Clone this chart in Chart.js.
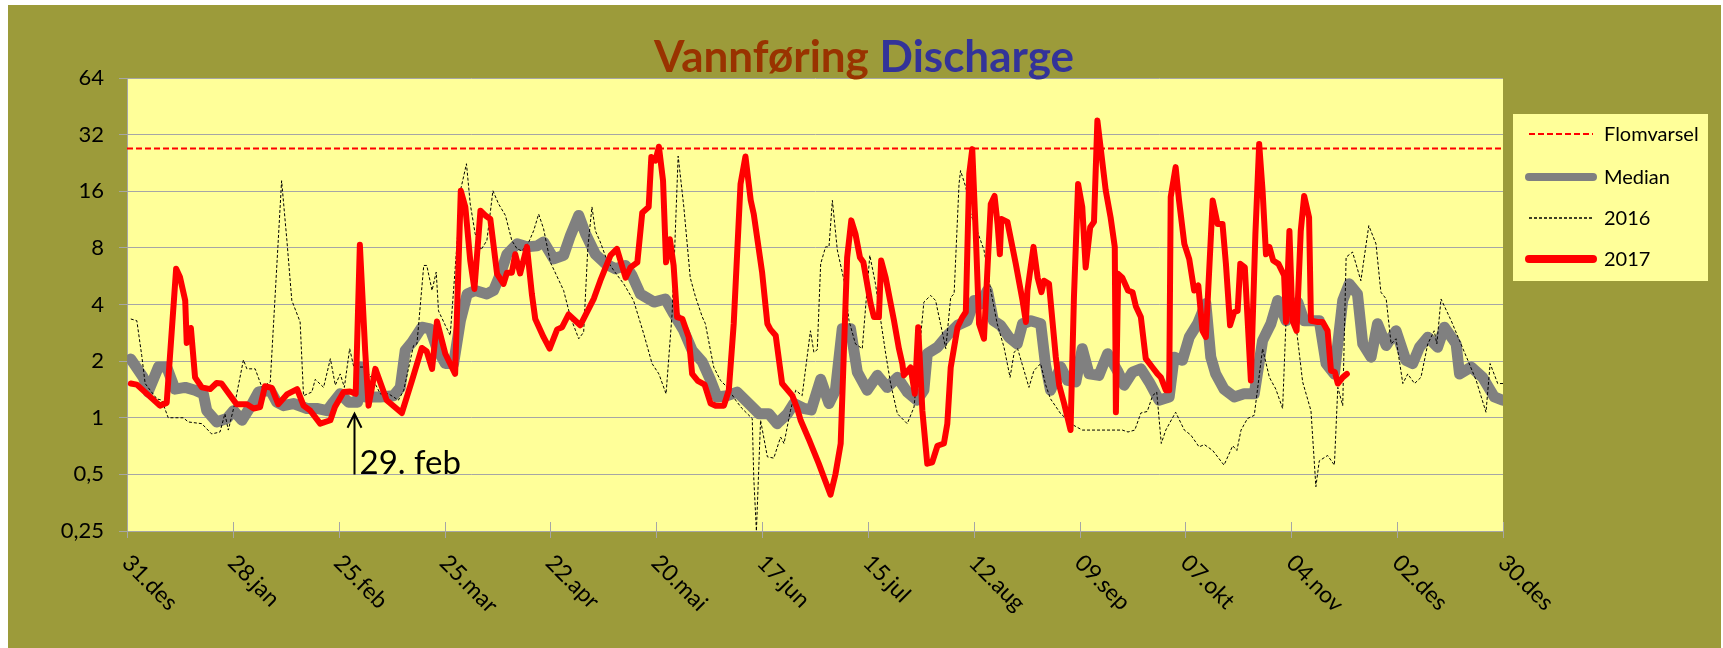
<!DOCTYPE html>
<html>

<head>
    <meta charset="UTF-8">
    <title>Vannføring Discharge</title>
    <style>
        body { margin: 0; background: #fff; }
    </style>
</head>

<body>
    <canvas id="chart" width="1723" height="648"></canvas>
    <script src="https://cdn.jsdelivr.net/npm/chart.js"></script>
    <script>
        // dager regnet fra 31.des
        const tickDays = [0, 28, 56, 84, 112, 140, 168, 196, 224, 252, 280, 308, 336, 364];
        const tickLabels = ["31.des", "28.jan", "25.feb", "25.mar", "22.apr", "20.mai", "17.jun",
            "15.jul", "12.aug", "09.sep", "07.okt", "04.nov", "02.des", "30.des"];
        const yTicks = [0.25, 0.5, 1, 2, 4, 8, 16, 32, 64];

        const flomDays = [0, 364];
        const flomValues = [27, 27];

        const medianDays = [1, 4.3, 5.6, 8.3, 10.5, 12.7, 15.4, 18, 20.2, 21.1, 23.7, 26.4, 28.2, 30.4, 32.6, 34.8,
            37.9, 39.6, 41.4, 44, 47.6, 50.2, 52.9, 54.6, 56.4, 58.6, 61, 61.7, 63, 67, 70.5, 72.3, 73.6, 75.4, 78,
            80.2, 82, 84.2, 86.4, 88.2, 90, 92.1, 95.2, 97, 98.8, 100.5, 103.2, 105.8, 108.5, 110.2, 112.9, 115.5,
            117.3, 119.5, 121.3, 123.9, 126.6, 129.2, 131.9, 133.6, 135.8, 139.4, 142.4, 144.6, 147.3, 149.5, 152.2,
            154.4, 156.1, 158.8, 161.4, 164.1, 167.2, 169.8, 172, 174.7, 176.4, 179.1, 181, 183.5, 185.7, 187.4,
            189.2, 191.4, 193.2, 195.8, 198.5, 201.1, 203.8, 206.4, 209, 210.8, 211.7, 214.4, 217, 219.7, 222.3,
            224.1, 225.8, 227.6, 229.2, 231.1, 233.3, 235.5, 236.9, 239.1, 241.7, 243, 244.3, 247, 248.8, 251,
            252.7, 254.5, 257.1, 259.4, 262, 263.8, 266, 268.2, 270.4, 273, 275.7, 277, 279.2, 281, 283.2, 285.4,
            286.7, 288, 290.2, 292.9, 295.5, 298.2, 300.4, 302.6, 304.4, 306.6, 309.7, 311.4, 315.4, 317.2, 319.4,
            321.6, 323.3, 325.5, 326.9, 329.1, 330.8, 333.1, 335.7, 338.3, 340.1, 341.9, 344.1, 346.7, 348.5,
            351.6, 352.5, 355.6, 358.6, 361.7, 363.9];
        const medianValues = [2.05, 1.64, 1.37, 1.86, 1.86, 1.42, 1.45, 1.4, 1.34, 1.09, 0.95, 0.99, 1.09, 0.97, 1.14, 1.37,
            1.4, 1.21, 1.16, 1.19, 1.12, 1.12, 1.09, 1.21, 1.34, 1.21, 1.21, 1.86, 1.29, 1.29, 1.31, 1.45, 2.28, 2.52, 3.03,
            2.97, 2.33, 1.94, 1.94, 3.28, 4.55, 4.75, 4.55, 4.75, 5.82, 7.4, 8.4, 8.1, 8.2, 8.6, 7.0, 7.3,
            9.3, 11.9, 9.5, 7.4, 6.58, 6.2, 6.45, 5.7, 4.55, 4.12, 4.28, 3.57, 2.9, 2.28, 1.98,
            1.58, 1.29, 1.31, 1.37, 1.21, 1.05, 1.05, 0.93, 1.05, 1.19, 1.12, 1.1, 1.6, 1.19, 1.4,
            2.97, 2.97, 1.75, 1.4, 1.68, 1.45, 1.64, 1.37, 1.24, 1.4, 2.19, 2.37, 2.74, 3.1, 3.28,
            4.2, 4.03, 4.75, 3.28, 3.1, 2.68, 2.47, 3.16, 3.28, 3.16, 1.9, 1.4, 1.86, 1.58, 1.55,
            2.33, 1.71, 1.68, 2.19, 1.78, 1.49, 1.75, 1.82, 1.55, 1.24, 1.29, 2.1, 2.02, 2.68, 3.16, 4.05,
            2.1, 1.71, 1.42, 1.29, 1.34, 1.34, 2.57, 3.16, 4.2, 3.28, 4.12, 3.28, 3.28, 1.94, 1.71,
            4.2, 5.15, 4.55, 2.47, 2.1, 3.16, 2.42, 2.9, 2.02, 1.94, 2.37, 2.68, 2.37, 3.03,
            2.47, 1.71, 1.86, 1.64, 1.29, 1.24];

        const days2016 = [1, 2.6, 3.9, 4.8, 6.5, 7.9, 9.2, 10.9, 14.9, 16.2, 19.8, 22.4, 24.6, 25.9, 26.8, 28.6, 30.8,
            31.7, 33.9, 35.7, 37.9, 40.9, 42.3, 43.6, 45.8, 46.7, 48.9, 49.8, 52, 53.8, 55.1, 56.4, 57.5, 58.9, 60,
            62.6, 65.2, 67, 69.2, 71.8, 73.2, 75.8, 76.7, 78.5, 79.3, 80.7, 81.8, 82.4, 84.2, 85.5, 87.3, 88.2, 89.8,
            90.8, 92.1, 93.6, 95.2, 96.8, 98.3, 100.1, 101.8, 103.2, 104.5, 106.3, 107.6, 108.9, 110.2, 112, 114.2,
            115.5, 117.3, 119.5, 120.8, 121.9, 123, 123.9, 125.2, 127, 128.8, 131.4, 134, 136.7, 138.9, 140.7, 142.6,
            144.2, 144.8, 145.8, 147.3, 149, 150.4, 152.2, 153, 155.2, 157, 158.8, 161, 162.7, 165.4, 165.8, 166.5,
            167.6, 169.4, 171.1, 172.9, 173.8, 175.5, 176.9, 178.6, 180.8, 181.7, 182.6, 183.5, 184.8, 185.7, 186.6,
            187.9, 189.7, 191, 192.7, 194.5, 196.5, 198, 199.4, 200.7, 202, 203.8, 206.4, 208.2, 210.8, 212.6, 213.9,
            215.2, 216.6, 217.9, 218.8, 220.1, 220.5, 221.9, 223.2, 224.9, 226.7, 228.5, 230.2, 232, 233.6, 234.7,
            235.6, 238.6, 239.9, 241.7, 243, 244.3, 247, 250.5, 252.7, 263.3, 264.8, 266.6, 268.2, 269.9, 271.3,
            272.4, 273.6, 274.8, 277.4, 279.7, 281.4, 283.6, 285, 287.2, 290.2, 292.5, 293.6, 294.7, 296.4, 298.2,
            300.4, 302.2, 303.9, 305.7, 306.6, 309.2, 311, 313.2, 314.5, 315.4, 317.6, 319.4, 320.3, 321.6, 322.5,
            324.2, 326.4, 328.5, 330.4, 331.7, 333.1, 334.4, 335.7, 337.5, 338.8, 340.6, 342.3, 344.1, 345.8, 346.5,
            347.6, 350.3, 352.5, 354.7, 356.9, 359.5, 360.6, 362.6, 364.4];
        const flow2016 = [3.35, 3.28, 2.14, 1.52, 1.37, 1.26, 1.24, 1.0, 1.0, 0.95, 0.93, 0.82, 0.84, 1.05, 0.86, 1.21, 2.03,
            1.82, 1.82, 1.45, 1.55, 18.2, 8.75, 4.2, 3.23, 1.31, 1.37, 1.6, 1.45, 2.06, 1.49, 1.71, 1.45, 2.33, 1.86,
            1.86, 1.58, 1.34, 1.34, 1.24, 1.4, 2.42, 2.47, 6.45, 6.45, 4.75, 5.95, 3.7, 3.1, 2.74, 8.4, 16.1, 22.4,
            13.7, 9.5, 7.8, 8.75, 16.1, 13.7, 11.9, 8.75, 7.9, 7.7, 8.6, 9.9, 12.1, 10.1, 6.7, 5.4,
            4.75, 3.43, 2.63, 2.85, 8, 13.2, 9.85, 8.6, 6.85, 6.05, 5.15, 4.2, 2.79, 1.94, 1.71, 1.34,
            3.57, 7.14, 24.6, 13.2, 5.55, 4.38, 3.43, 3.16, 1.86, 1.58, 1.45, 1.24, 1.12, 0.99, 0.48, 0.25,
            0.97, 0.62, 0.61, 0.79, 0.73, 1.09, 1.4, 1.31, 2.9, 2.23, 2.3, 6.58, 8.1, 8.1, 14.3,
            7.8, 5.35, 3.28, 2.47, 2.33, 7.3, 5.15, 3.28, 2.19, 1.52, 1.05, 0.93, 1.14, 4.12, 4.47, 4.2,
            3.16, 2.33, 4.38, 4.55, 17.5, 20.6, 16.8, 12.1, 9.85, 7.8, 4.75, 3.16, 2.37, 1.64, 2.23,
            2.33, 1.45, 1.78, 1.94, 1.5, 1.26, 1.05, 0.91, 0.86, 0.86, 0.84, 0.86, 1.06, 1.08, 1.31,
            1.37, 0.73, 0.86, 1.07, 0.86, 0.81, 0.7, 0.72, 0.67, 0.56, 0.71, 0.67, 0.86, 0.99, 1.03,
            2.33, 1.64, 1.42, 1.12, 3.28, 3.16, 1.55, 1.09, 0.43, 0.59, 0.63, 0.56, 1.45, 1.16, 7.14,
            7.6, 5.35, 10.5, 8.4, 4.65, 4.28, 2.47, 2.63, 1.52, 1.71, 1.52, 1.64, 2.47, 2.9, 2.47,
            4.28, 3.28, 2.57, 2.02, 1.58, 1.07, 1.94, 1.52, 1.52];

        const days2017 = [1, 2.6, 8.7, 10.5, 11.2, 13, 14, 15.4, 15.8, 16.9, 18, 19.8, 22, 23.7, 25, 29, 31.7, 33.5,
            35.2, 36.5, 38.3, 40, 42.3, 45, 46.7, 48.5, 51.1, 53.8, 55, 57.3, 59, 60.5, 61.6, 63, 63.9, 65.7, 68.7,
            72.7, 75.4, 78, 79.3, 80.7, 82, 84.2, 86.8, 88.3, 89.5, 90.8, 91.9, 93.5, 94.8, 96.1, 97.9, 99.6, 100.5,
            101.8, 102.7, 104, 105.8, 107.1, 108, 110.2, 111.8, 113.8, 115.1, 116.8, 119.9, 123.5, 125.2, 127.9,
            129.6, 131.9, 133.2, 135, 136.3, 138, 138.7, 139.8, 140.7, 141.8, 142.6, 143.6, 144.6, 145.5, 146.9,
            148.6, 149.5, 151, 152.8, 154.4, 155.7, 157.9, 159.2, 160.5, 162.3, 163.6, 165, 165.8, 168, 169.4,
            170.2, 171.6, 173.3, 176, 177.3, 178.2, 180.6, 183, 184.4, 186.1, 187.4, 188.8, 190.5, 191.6, 192.7,
            193.9, 194.8, 196.7, 197.6, 198.9, 199.5, 200.7, 202.9, 204.2, 205.1, 205.5, 207.3, 208.4, 209.3,
            210.4, 211.7, 213, 214.4, 216.1, 217, 217.9, 219.7, 221, 221.9, 222.8, 223.6, 224.5, 225.4, 226.7,
            227.6, 228.5, 229.5, 230.3, 230.9, 231.3, 232.9, 235.1, 236.9, 237.8, 238.2, 239.8, 240.9, 241.9,
            242.6, 243.9, 245.7, 246.6, 247.9, 249.6, 250.5, 251.6, 252.7, 253.6, 254.8, 255.8, 256.7, 258.9,
            260.2, 261.3, 261.6, 262.2, 263.3, 264.8, 266, 266.9, 268.2, 269.5, 271.3, 272.6, 273.5, 274.8, 275.7,
            276.1, 277.4, 278.3, 279.7, 281, 282.3, 283.4, 284.5, 285.4, 287.2, 288.5, 289.8, 290.7, 291.8, 292.9,
            293.8, 294.5, 295.7, 297.3, 298.5, 299.5, 300.4, 301.3, 302.2, 303.2, 304.6, 306.1, 306.6, 307.5,
            308.3, 309.4, 310.5, 311.4, 312.7, 313.2, 315, 316.3, 317.6, 318.5, 319.5, 320.3, 321.6, 322.7];
        const flow2017 = [1.52, 1.5, 1.16, 1.2, 1.9, 6.2, 5.6, 4.2, 2.5, 3.0, 1.64, 1.45, 1.42, 1.53, 1.52, 1.18, 1.18, 1.12,
            1.14, 1.47, 1.44, 1.18, 1.33, 1.42, 1.16, 1.09, 0.93, 0.97, 1.14, 1.37, 1.38, 1.34, 8.3, 2.28, 1.16, 1.82, 1.24,
            1.06, 1.58, 2.35, 2.25, 1.82, 3.25, 2.19, 1.71, 16.1, 13.2, 6.85, 4.84, 12.6, 11.9, 11.4, 5.82, 5.15, 5.9,
            5.9, 7.4, 5.85, 8.1, 4.55, 3.35, 2.68, 2.33, 2.95, 3.03, 3.54, 3.1, 4.3, 5.35, 7.3,
            7.9, 5.55, 6.3, 6.7, 12.3, 13.2, 24.3, 23.3, 27.6, 18.2, 6.7, 8.9, 6.45, 3.43, 3.36,
            2.68, 1.71, 1.57, 1.5, 1.19, 1.16, 1.16, 1.4, 3.16, 17.5, 24.5, 14.3, 12.1, 5.95, 3.16,
            2.95, 2.74, 1.52, 1.31, 1.12, 0.97, 0.75, 0.57, 0.48, 0.39, 0.5, 0.73, 7.1, 11.2, 9.5,
            7.1, 6.7, 4.05, 3.43, 3.43, 6.85, 5.55, 3.28, 2.33, 1.94, 1.68, 1.85, 1.34, 3.03,
            1.09, 0.57, 0.58, 0.71, 0.73, 0.93, 1.85, 3.03, 3.43, 3.65, 19.8, 26.8, 9.85, 3.16, 2.63,
            6.05, 13.7, 15.1, 10.7, 7.4, 11.4, 11.0, 6.6, 4.2, 3.23, 4.75, 8.1, 5.55, 4.65,
            5.35, 5.15, 2.1, 1.49, 1.19, 0.86, 4.38, 17.5, 13.2, 6.3, 10.3, 11.0, 38, 16.2,
            11.6, 8.1, 1.07, 5.82, 5.55, 4.75, 4.65, 3.9, 3.43, 2.06, 1.85, 1.71, 1.64, 1.4, 1.4,
            14.9, 21.5, 14.3, 8.4, 6.97, 4.75, 5.05, 2.9, 2.68, 14.3, 10.7, 10.7, 6.58, 3.1, 3.65,
            3.7, 6.58, 6.3, 1.58, 9.5, 28.5, 16.1, 7.4, 8.1, 6.85, 6.58, 5.7, 3.23, 9.85,
            3.28, 2.9, 9.85, 15.1, 11.6, 3.28, 3.23, 3.23, 2.9, 1.78, 1.75, 1.52, 1.64, 1.71];

        const toPoints = (xs, ys) => xs.map((x, i) => ({ x: x, y: ys[i] }));

        const olive = '#9C9B3A';
        const plotFill = '#FFFF99';
        const gridGray = '#A6A6A6';

        // bakgrunn: hvit kant, oliven ramme og gult plottområde
        const backgroundPlugin = {
            id: 'background',
            beforeDraw(chart) {
                const ctx = chart.ctx;
                const area = chart.chartArea;
                ctx.save();
                ctx.fillStyle = '#ffffff';
                ctx.fillRect(0, 0, chart.width, chart.height);
                ctx.fillStyle = olive;
                ctx.fillRect(8, 5, chart.width - 10, chart.height - 5);
                ctx.fillStyle = plotFill;
                ctx.fillRect(area.left, area.top, area.right - area.left, area.bottom - area.top);
                ctx.restore();
            }
        };

        // tittel, x-etiketter, pil for 29. feb og forklaring
        const overlayPlugin = {
            id: 'overlay',
            afterDraw(chart) {
                const ctx = chart.ctx;
                const area = chart.chartArea;
                const xs = chart.scales.x;
                const ys = chart.scales.y;
                ctx.save();

                // tittel i to farger
                ctx.font = 'bold 44px Lato';
                ctx.textBaseline = 'alphabetic';
                const t1 = 'Vannføring ';
                const t2 = 'Discharge';
                const w1 = ctx.measureText(t1).width;
                const w2 = ctx.measureText(t2).width;
                let tx = 864 - (w1 + w2) / 2;
                ctx.textAlign = 'left';
                ctx.fillStyle = '#993300';
                ctx.fillText(t1, tx, 72);
                ctx.fillStyle = '#333399';
                ctx.fillText(t2, tx + w1, 72);

                // kryssende merker på x-aksen
                ctx.strokeStyle = gridGray;
                ctx.lineWidth = 1;
                tickDays.forEach((d) => {
                    const px = Math.round(xs.getPixelForValue(d)) + 0.5;
                    ctx.beginPath();
                    ctx.moveTo(px, area.bottom - 9);
                    ctx.lineTo(px, area.bottom + 7);
                    ctx.stroke();
                });

                // skrå datoetiketter
                ctx.fillStyle = '#000';
                ctx.font = '23px Lato';
                ctx.textAlign = 'left';
                ctx.textBaseline = 'middle';
                tickDays.forEach((d, i) => {
                    const px = xs.getPixelForValue(d);
                    ctx.save();
                    ctx.translate(px - 1, area.bottom + 28);
                    ctx.rotate(Math.PI / 4);
                    ctx.fillText(tickLabels[i], 0, 0);
                    ctx.restore();
                });

                // pil og tekst for skuddårsdagen
                const ax = Math.round(xs.getPixelForValue(60)) + 0.5;
                const aTop = ys.getPixelForValue(1.05);
                const aBot = ys.getPixelForValue(0.5);
                ctx.strokeStyle = '#000';
                ctx.lineWidth = 2;
                ctx.beginPath();
                ctx.moveTo(ax, aBot);
                ctx.lineTo(ax, aTop);
                ctx.moveTo(ax - 7, aTop + 14);
                ctx.lineTo(ax, aTop);
                ctx.lineTo(ax + 7, aTop + 14);
                ctx.stroke();
                ctx.font = '33px Lato';
                ctx.textBaseline = 'alphabetic';
                ctx.fillText('29. feb', ax + 5, aBot);

                // forklaring
                const lx = 1513, ly = 114, lw = 195, lh = 167;
                ctx.fillStyle = plotFill;
                ctx.fillRect(lx, ly, lw, lh);
                const items = chart.data.datasets.slice().sort((a, b) => b.order - a.order);
                const rowY = [134, 177, 218, 259];
                ctx.font = '20px Lato';
                ctx.textBaseline = 'middle';
                items.forEach((ds, i) => {
                    const y = rowY[i];
                    ctx.save();
                    ctx.strokeStyle = ds.borderColor;
                    ctx.lineWidth = ds.legendWidth;
                    ctx.lineCap = ds.borderDash.length ? 'butt' : 'round';
                    ctx.setLineDash(ds.borderDash);
                    ctx.beginPath();
                    ctx.moveTo(1529, y);
                    ctx.lineTo(1593, y);
                    ctx.stroke();
                    ctx.restore();
                    ctx.fillStyle = '#000';
                    ctx.fillText(ds.label, 1604, y + 1);
                });
                ctx.restore();
            }
        };

        const ctx = document.getElementById('chart').getContext('2d');

        new Chart(ctx, {
            type: 'line',
            data: {
                datasets: [
                    {
                        label: '2017',
                        data: toPoints(days2017, flow2017),
                        borderColor: '#FF0000',
                        borderWidth: 6,
                        borderDash: [],
                        legendWidth: 8,
                        borderJoinStyle: 'round',
                        borderCapStyle: 'round',
                        order: 0,
                    },
                    {
                        label: '2016',
                        data: toPoints(days2016, flow2016),
                        borderColor: '#000000',
                        borderWidth: 1,
                        borderDash: [3, 2],
                        legendWidth: 1.5,
                        order: 1,
                    },
                    {
                        label: 'Median',
                        data: toPoints(medianDays, medianValues),
                        borderColor: '#808080',
                        borderWidth: 11,
                        borderDash: [],
                        legendWidth: 8,
                        borderJoinStyle: 'round',
                        borderCapStyle: 'round',
                        order: 2,
                    },
                    {
                        label: 'Flomvarsel',
                        data: toPoints(flomDays, flomValues),
                        borderColor: '#FF0000',
                        borderWidth: 2,
                        borderDash: [6, 3],
                        legendWidth: 2,
                        order: 3,
                    },
                ],
            },
            options: {
                responsive: false,
                animation: false,
                devicePixelRatio: 1,
                layout: {
                    padding: { top: 78, right: 220, left: 0, bottom: 0 },
                },
                elements: {
                    point: { radius: 0 },
                    line: { tension: 0, fill: false },
                },
                plugins: {
                    legend: { display: false },
                    title: { display: false },
                    tooltip: { enabled: false },
                },
                scales: {
                    x: {
                        type: 'linear',
                        min: 0,
                        max: 364,
                        afterBuildTicks: (scale) => {
                            scale.ticks = tickDays.map((v) => ({ value: v }));
                        },
                        afterFit: (scale) => {
                            scale.height = 117;
                        },
                        grid: { display: false },
                        border: { display: true, color: gridGray, width: 1 },
                        ticks: { display: false },
                    },
                    y: {
                        type: 'logarithmic',
                        min: 0.25,
                        max: 64,
                        afterBuildTicks: (scale) => {
                            scale.ticks = yTicks.map((v) => ({ value: v }));
                        },
                        afterFit: (scale) => {
                            scale.width = 127;
                        },
                        grid: { color: gridGray, lineWidth: 1, tickLength: 8 },
                        border: { display: true, color: gridGray, width: 1 },
                        ticks: {
                            color: '#000',
                            padding: 15,
                            font: { family: 'Lato', size: 22 },
                            callback: (v) => String(v).replace('.', ','),
                        },
                    },
                },
            },
            plugins: [backgroundPlugin, overlayPlugin],
        });
    </script>
</body>

</html>
